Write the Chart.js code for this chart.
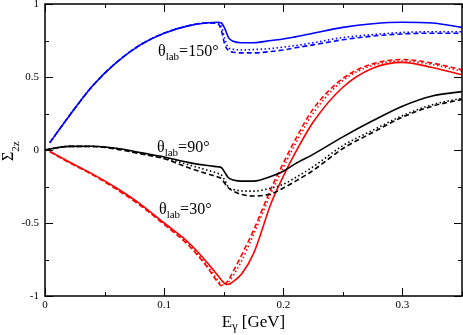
<!DOCTYPE html>
<html>
<head>
<meta charset="utf-8">
<script src="https://cdn.jsdelivr.net/npm/chart.js@4"></script>
<style>
  html, body { margin: 0; padding: 0; background: #fff; }
  #box { width: 463px; height: 335px; }
</style>
</head>
<body>
<div id="box"><canvas id="myChart" width="463" height="335"></canvas></div>
<script>
// photon energy grid (GeV)
var egam = [0.004, 0.02, 0.04, 0.06, 0.08, 0.1, 0.12, 0.135, 0.145, 0.148, 0.151, 0.154, 0.158, 0.165, 0.175, 0.19, 0.2, 0.21, 0.225, 0.25, 0.275, 0.3, 0.325, 0.35];
var egamBlack = [0, 0.02, 0.04, 0.06, 0.08, 0.1, 0.12, 0.135, 0.145, 0.148, 0.151, 0.154, 0.158, 0.165, 0.175, 0.19, 0.2, 0.21, 0.225, 0.25, 0.275, 0.3, 0.325, 0.35];

// theta_lab = 150 deg
var blueSolid  = [0.05, 0.23, 0.44, 0.60, 0.72, 0.80, 0.85, 0.87, 0.875, 0.87, 0.83, 0.77, 0.745, 0.735, 0.735, 0.75, 0.76, 0.775, 0.80, 0.84, 0.865, 0.875, 0.87, 0.84];
var blueDashed = [0.05, 0.23, 0.44, 0.60, 0.72, 0.80, 0.85, 0.87, 0.865, 0.82, 0.72, 0.68, 0.67, 0.665, 0.665, 0.675, 0.685, 0.70, 0.72, 0.755, 0.78, 0.795, 0.80, 0.80];
var blueDotted = [0.05, 0.23, 0.44, 0.60, 0.72, 0.80, 0.85, 0.87, 0.87, 0.845, 0.76, 0.70, 0.69, 0.685, 0.688, 0.695, 0.705, 0.715, 0.735, 0.77, 0.79, 0.805, 0.81, 0.81];

// theta_lab = 90 deg
var blackSolid  = [0, 0.025, 0.026, 0.012, -0.018, -0.048, -0.085, -0.105, -0.115, -0.12, -0.155, -0.19, -0.205, -0.213, -0.213, -0.18, -0.145, -0.095, -0.03, 0.09, 0.20, 0.30, 0.37, 0.40];
var blackDashed = [0, 0.025, 0.024, 0.006, -0.026, -0.06, -0.12, -0.16, -0.185, -0.195, -0.23, -0.26, -0.282, -0.305, -0.315, -0.30, -0.26, -0.215, -0.14, 0.01, 0.12, 0.225, 0.30, 0.346];
var blackDotted = [0, 0.025, 0.025, 0.009, -0.022, -0.054, -0.10, -0.135, -0.16, -0.17, -0.21, -0.255, -0.27, -0.28, -0.282, -0.26, -0.235, -0.19, -0.115, 0.03, 0.135, 0.235, 0.31, 0.355];

// theta_lab = 30 deg
var redSolid  = [-0.01, -0.08, -0.165, -0.26, -0.37, -0.50, -0.63, -0.76, -0.86, -0.89, -0.915, -0.92, -0.90, -0.85, -0.71, -0.36, -0.18, -0.02, 0.19, 0.43, 0.56, 0.60, 0.565, 0.515];
var redDashed = [-0.01, -0.085, -0.17, -0.27, -0.38, -0.51, -0.65, -0.79, -0.905, -0.93, -0.92, -0.89, -0.83, -0.72, -0.55, -0.26, -0.09, 0.07, 0.28, 0.49, 0.59, 0.62, 0.595, 0.55];
var redDotted = [-0.01, -0.082, -0.168, -0.265, -0.375, -0.505, -0.64, -0.78, -0.89, -0.92, -0.925, -0.905, -0.86, -0.76, -0.58, -0.29, -0.12, 0.04, 0.25, 0.475, 0.58, 0.61, 0.585, 0.54];

var xTicksMajor = [0, 0.1, 0.2, 0.3];
var yTicksMajor = [-1, -0.5, 0, 0.5, 1];

function pts(xs, ys) {
    return xs.map(function (x, i) { return {x: x, y: ys[i]}; });
}

function series(xs, ys, color, dash) {
    return {
        data: pts(xs, ys),
        borderColor: color,
        borderWidth: 1.6,
        borderDash: dash,
        pointRadius: 0,
        fill: false,
        cubicInterpolationMode: 'monotone'
    };
}

var DASH = [5, 3];
var DOT = [1.5, 2.5];
var FONT = '"Liberation Serif", "Times New Roman", serif';

function isMajor(list, v) {
    return list.some(function (m) { return Math.abs(m - v) < 1e-6; });
}

// frame, inward ticks, axis titles and curve labels
var decor = {
    id: 'decor',
    afterDraw: function (chart) {
        var c = chart.ctx, a = chart.chartArea;
        var xs = chart.scales.x, ys = chart.scales.y;
        c.save();
        c.strokeStyle = '#000';
        c.lineWidth = 1.5;
        c.strokeRect(a.left, a.top, a.right - a.left, a.bottom - a.top);
        c.lineWidth = 1;
        c.beginPath();
        xs.ticks.forEach(function (t) {
            var px = Math.round(xs.getPixelForValue(t.value)) + 0.5;
            var len = isMajor(xTicksMajor, t.value) ? 8 : 4;
            c.moveTo(px, a.bottom); c.lineTo(px, a.bottom - len);
            c.moveTo(px, a.top); c.lineTo(px, a.top + len);
        });
        ys.ticks.forEach(function (t) {
            var py = Math.round(ys.getPixelForValue(t.value)) + 0.5;
            var len = isMajor(yTicksMajor, t.value) ? 8 : 4;
            c.moveTo(a.left, py); c.lineTo(a.left + len, py);
            c.moveTo(a.right, py); c.lineTo(a.right - len, py);
        });
        c.stroke();

        c.fillStyle = '#000';
        c.textBaseline = 'alphabetic';
        // x title
        c.font = '17px ' + FONT;
        var w1 = c.measureText('E').width;
        c.font = '12px ' + FONT;
        var w2 = c.measureText('\u03b3').width;
        c.font = '17px ' + FONT;
        var w3 = c.measureText(' [GeV]').width;
        var x0 = (a.left + a.right) / 2 - (w1 + w2 + w3) / 2;
        c.fillText('E', x0, 327);
        c.font = '12px ' + FONT;
        c.fillText('\u03b3', x0 + w1, 330);
        c.font = '17px ' + FONT;
        c.fillText(' [GeV]', x0 + w1 + w2, 327);

        // y title
        c.save();
        c.translate(13, 161);
        c.rotate(-Math.PI / 2);
        c.font = '16px ' + FONT;
        c.fillText('\u03a3', 0, 0);
        var ws = c.measureText('\u03a3').width;
        c.font = '11px ' + FONT;
        c.fillText('2z', ws, 6);
        c.restore();

        // curve labels
        function lab(x, y, txt) {
            c.font = '16px ' + FONT;
            c.fillText('\u03b8', x, y);
            var wt = c.measureText('\u03b8').width;
            c.font = '11px ' + FONT;
            c.fillText('lab', x + wt, y + 4);
            var wl = c.measureText('lab').width;
            c.font = '16px ' + FONT;
            c.fillText(txt, x + wt + wl, y);
        }
        lab(158, 56, '=150\u00b0');
        lab(157, 152, '=90\u00b0');
        lab(159, 214, '=30\u00b0');
        c.restore();
    }
};

var ctx = document.getElementById('myChart').getContext('2d');
var chart = new Chart(ctx, {
    type: 'line',
    data: {
        datasets: [
            series(egam, blueSolid, '#0000ff', []),
            series(egam, blueDashed, '#0000ff', DASH),
            series(egam, blueDotted, '#0000ff', DOT),
            series(egamBlack, blackSolid, '#000000', []),
            series(egamBlack, blackDashed, '#000000', DASH),
            series(egamBlack, blackDotted, '#000000', DOT),
            series(egam, redSolid, '#ff0000', []),
            series(egam, redDashed, '#ff0000', DASH),
            series(egam, redDotted, '#ff0000', DOT)
        ]
    },
    options: {
        responsive: false,
        animation: false,
        layout: { padding: { top: 4, right: 1, left: 0, bottom: 0 } },
        plugins: { legend: { display: false }, tooltip: { enabled: false } },
        scales: {
            x: {
                type: 'linear', min: 0, max: 0.35,
                grid: { display: false, drawTicks: false, tickLength: 0 },
                border: { display: false },
                ticks: {
                    stepSize: 0.05, autoSkip: false, maxRotation: 0, padding: 3,
                    color: '#000', font: { family: FONT, size: 11 },
                    callback: function (v) { return isMajor(xTicksMajor, v) ? String(Math.round(v * 10) / 10) : ''; }
                },
                afterFit: function (s) { s.height = 39; s.paddingLeft = 0; s.paddingRight = 0; }
            },
            y: {
                min: -1, max: 1,
                grid: { display: false, drawTicks: false, tickLength: 0 },
                border: { display: false },
                ticks: {
                    stepSize: 0.25, autoSkip: false, padding: 6,
                    color: '#000', font: { family: FONT, size: 11 },
                    callback: function (v) { return isMajor(yTicksMajor, v) ? String(Math.round(v * 10) / 10) : ''; }
                },
                afterFit: function (s) { s.width = 45; s.paddingTop = 0; s.paddingBottom = 0; }
            }
        }
    },
    plugins: [decor]
});
</script>
</body>
</html>
